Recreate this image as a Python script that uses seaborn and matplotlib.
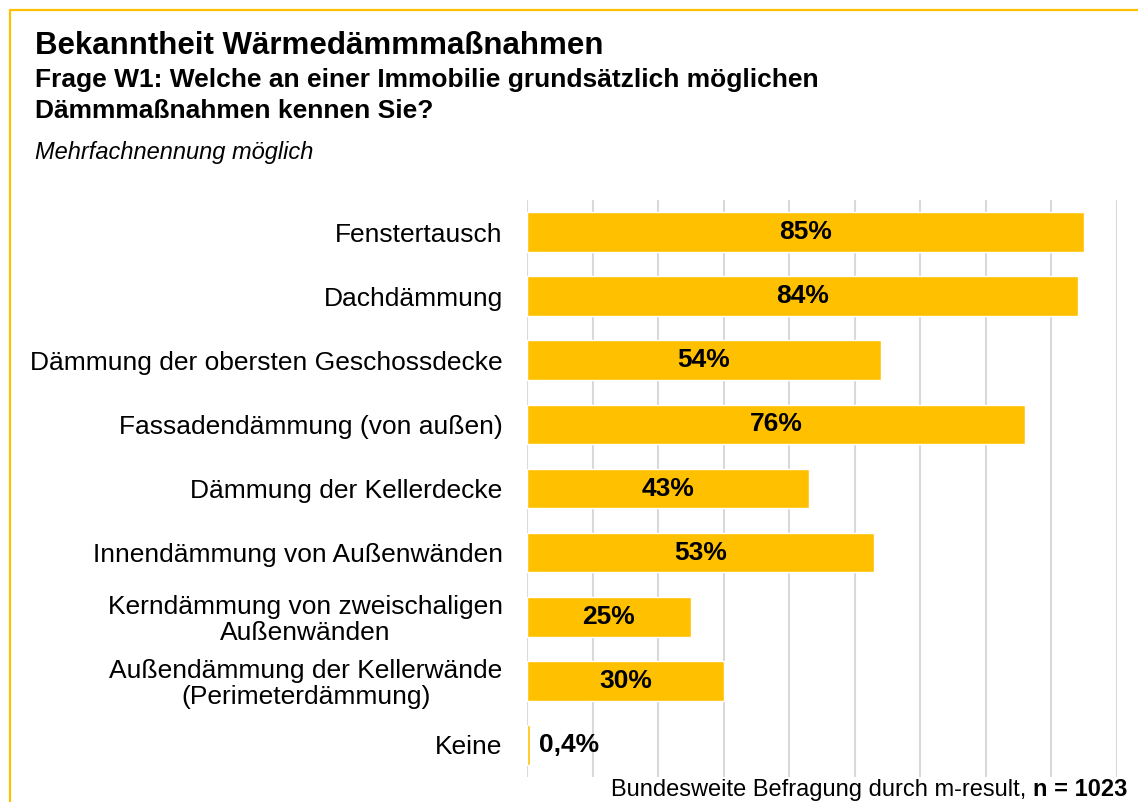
import pandas as pd
import seaborn as sns
import matplotlib.pyplot as plt
from matplotlib.lines import Line2D

categories = [
    "Fenstertausch",
    "Dachdämmung",
    "Dämmung der obersten Geschossdecke",
    "Fassadendämmung (von außen)",
    "Dämmung der Kellerdecke",
    "Innendämmung von Außenwänden",
    "Kerndämmung von zweischaligen\nAußenwänden",
    "Außendämmung der Kellerwände\n(Perimeterdämmung)",
    "Keine",
]
values = [85, 84, 54, 76, 43, 53, 25, 30, 0.4]
value_labels = ["85%", "84%", "54%", "76%", "43%", "53%", "25%", "30%", "0,4%"]

df = pd.DataFrame({"kategorie": categories, "wert": values, "label": value_labels})

sns.set_style("white")
plt.rcParams["font.family"] = ["Liberation Sans", "DejaVu Sans"]
plt.rcParams["text.color"] = "black"
plt.rcParams["ytick.color"] = "black"

gold = "#FFC000"
fig = plt.figure(figsize=(11.38, 8.02), dpi=100)
ax = fig.add_axes([527 / 1138, 1 - 777 / 802, 590 / 1138, 577 / 802])

sns.barplot(data=df, x="wert", y="kategorie", color=gold, width=0.62,
            saturation=1, ax=ax, zorder=2)

ax.set_xlim(0, 90)
ax.set_xticks(range(0, 91, 10))
ax.grid(axis="x", color="#D9D9D9", linewidth=1.5, zorder=0)
ax.set_axisbelow(True)
ax.tick_params(axis="x", bottom=False, labelbottom=False)
ax.tick_params(axis="y", left=False, labelsize=19, pad=14, labelcolor="black")
ax.set_xlabel("")
ax.set_ylabel("")
for s in ax.spines.values():
    s.set_visible(False)
for t in ax.get_yticklabels():
    t.set_multialignment("center")
    t.set_linespacing(1.1)

for i, (v, lab) in enumerate(zip(values, value_labels)):
    if v < 5:
        ax.text(v + 1.5, i, lab, ha="left", va="center", fontsize=19,
                fontweight="bold", zorder=3)
    else:
        ax.text(v / 2, i, lab, ha="center", va="center", fontsize=19,
                fontweight="bold", zorder=3)

# Rahmen
fig.add_artist(Line2D([10 / 1138, 10 / 1138], [0, 1 - 10 / 802], color=gold,
                      linewidth=1.6, transform=fig.transFigure))
fig.add_artist(Line2D([10 / 1138, 1], [1 - 10 / 802, 1 - 10 / 802], color=gold,
                      linewidth=1.6, transform=fig.transFigure))

fig.text(35 / 1138, 1 - 46 / 802, "Bekanntheit Wärmedämmmaßnahmen",
         fontsize=22.5, fontweight="bold", va="center")
fig.text(35 / 1138, 1 - 80 / 802, "Frage W1: Welche an einer Immobilie grundsätzlich möglichen",
         fontsize=19, fontweight="bold", va="center")
fig.text(35 / 1138, 1 - 111 / 802, "Dämmmaßnahmen kennen Sie?",
         fontsize=19, fontweight="bold", va="center")
fig.text(35 / 1138, 1 - 152 / 802, "Mehrfachnennung möglich",
         fontsize=17, style="italic", va="center")

foot = fig.text(1127 / 1138, 1 - 790 / 802, "n = 1023", fontsize=17,
                fontweight="bold", ha="right", va="center")
fig.canvas.draw()
bb = foot.get_window_extent()
fig.text(bb.x0 / fig.bbox.width, 1 - 790 / 802,
         "Bundesweite Befragung durch m-result, ", fontsize=17,
         ha="right", va="center")

fig.savefig("out.png", dpi=100)
